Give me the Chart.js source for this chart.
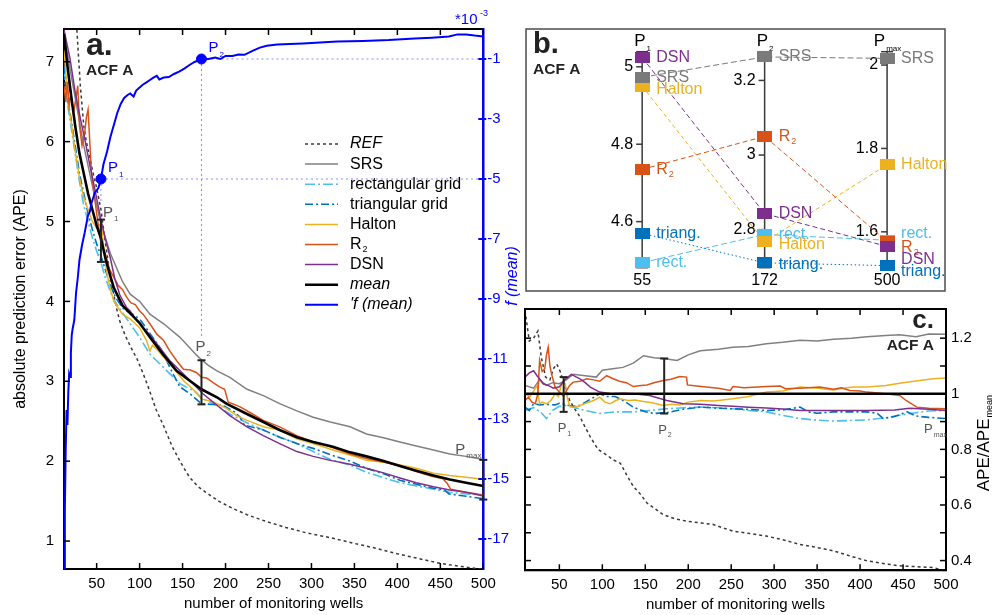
<!DOCTYPE html>
<html lang="en">
<head>
<meta charset="utf-8">
<title>APE vs number of monitoring wells - ACF A</title>
<script src="https://cdn.jsdelivr.net/npm/chart.js@4.4.1/dist/chart.umd.min.js"></script>
<style>
  html, body { margin: 0; padding: 0; background: #fff; }
  #wrap { position: relative; width: 1002px; height: 615px; overflow: hidden; }
  #wrap canvas { position: absolute; }
</style>
</head>
<body>
<div id="wrap">
  <canvas id="chartA" width="525" height="615" style="left:0;top:0"></canvas>
  <canvas id="chartB" width="440" height="300" style="left:520px;top:0"></canvas>
  <canvas id="chartC" width="502" height="320" style="left:500px;top:295px"></canvas>
</div>
<script>
/* ========================================
   APE vs number of monitoring wells (ACF A)
   ======================================== */

// ---- a. absolute prediction error ----
const refX = [24, 27, 29, 31, 33, 35, 38, 42, 46, 50, 55, 60, 66, 73, 77, 83, 90, 97, 104, 111, 119, 128, 138, 148, 158, 168, 177, 192, 208, 225, 246, 270, 295, 323, 350, 375, 400, 425, 450, 475, 500];
const refY = [7.7, 7.4, 7.05, 6.7, 6.45, 6.2, 6.0, 5.8, 5.6, 5.42, 5.15, 4.75, 4.3, 3.92, 3.75, 3.58, 3.42, 3.28, 3.1, 2.9, 2.65, 2.44, 2.18, 1.98, 1.8, 1.68, 1.61, 1.5, 1.41, 1.33, 1.25, 1.17, 1.1, 1.04, 0.97, 0.91, 0.84, 0.78, 0.72, 0.68, 0.645];
const srsX = [12, 16, 20, 25, 30, 35, 40, 45, 50, 55, 60, 66, 72, 80, 89, 100, 112, 128, 147, 166, 172, 180, 190, 205, 225, 244, 263, 283, 302, 322, 345, 364, 385, 403, 422, 442, 461, 480, 500];
const srsY = [7.3, 7.1, 6.85, 6.55, 6.25, 5.95, 5.7, 5.45, 5.2, 4.97, 4.8, 4.6, 4.45, 4.25, 4.09, 4.0, 3.84, 3.72, 3.55, 3.33, 3.27, 3.2, 3.13, 3.05, 2.9, 2.82, 2.72, 2.63, 2.55, 2.49, 2.43, 2.34, 2.29, 2.24, 2.19, 2.14, 2.09, 2.06, 2.02];
const rectX = [12, 15, 20, 25, 30, 35, 40, 45, 50, 55, 60, 65, 70, 80, 89, 100, 112, 128, 147, 166, 172, 190, 205, 225, 244, 263, 283, 302, 322, 345, 364, 385, 403, 422, 442, 461, 480, 500];
const rectY = [6.9, 6.55, 6.2, 5.85, 5.5, 5.2, 5.0, 4.8, 4.63, 4.49, 4.3, 4.15, 4.02, 3.86, 3.72, 3.55, 3.34, 3.17, 2.97, 2.86, 2.79, 2.7, 2.59, 2.48, 2.39, 2.3, 2.22, 2.12, 2.02, 1.95, 1.86, 1.79, 1.73, 1.69, 1.65, 1.61, 1.59, 1.575];
const triX = [12, 15, 20, 25, 30, 35, 40, 45, 50, 55, 60, 66, 72, 80, 85, 92, 100, 104, 112, 125, 139, 147, 159, 172, 185, 197, 210, 217, 222, 244, 263, 283, 302, 322, 345, 364, 385, 403, 422, 442, 455, 460, 480, 500];
const triY = [6.95, 6.6, 6.3, 5.95, 5.6, 5.35, 5.1, 4.9, 4.72, 4.57, 4.4, 4.2, 4.05, 3.92, 3.88, 3.84, 3.78, 3.72, 3.6, 3.4, 3.09, 2.93, 2.84, 2.72, 2.71, 2.7, 2.62, 2.55, 2.45, 2.39, 2.3, 2.22, 2.16, 2.08, 2.0, 1.91, 1.84, 1.76, 1.71, 1.66, 1.64, 1.59, 1.56, 1.53];
const haltonX = [12, 15, 18, 21, 24, 27, 30, 35, 40, 45, 50, 53, 56, 58, 62, 66, 70, 75, 80, 89, 100, 108, 112, 115, 120, 128, 139, 151, 162, 172, 186, 201, 213, 225, 244, 263, 283, 302, 325, 350, 364, 395, 422, 442, 461, 480, 500];
const haltonY = [7.15, 6.75, 6.4, 6.2, 5.95, 5.75, 5.55, 5.3, 5.15, 5.0, 4.92, 4.96, 4.93, 4.7, 4.35, 4.15, 4.0, 3.92, 3.84, 3.78, 3.67, 3.51, 3.38, 3.45, 3.4, 3.3, 3.17, 3.01, 2.9, 2.78, 2.74, 2.66, 2.57, 2.51, 2.43, 2.39, 2.28, 2.22, 2.14, 2.06, 2.01, 1.97, 1.91, 1.85, 1.82, 1.8, 1.775];
const r2X = [12, 14, 16, 18, 20, 23, 26, 28, 30, 33, 36, 38, 40, 42, 44, 47, 50, 55, 60, 65, 70, 75, 80, 85, 90, 95, 100, 104, 112, 120, 128, 135, 143, 151, 159, 166, 172, 178, 186, 193, 199, 203, 217, 230, 244, 263, 283, 302, 310, 322, 345, 365, 384, 403, 422, 440, 453, 458, 462, 480, 500];
const r2Y = [6.7, 6.5, 6.75, 6.45, 6.6, 6.35, 6.55, 6.7, 6.2, 5.95, 6.1, 6.3, 6.4, 6.0, 5.6, 5.35, 5.1, 4.73, 4.6, 4.4, 4.3, 4.2, 4.15, 4.05, 3.98, 3.96, 3.88, 3.84, 3.72, 3.59, 3.51, 3.38, 3.26, 3.15, 3.14, 3.11, 3.05, 3.04, 2.98, 2.93, 2.9, 2.74, 2.68, 2.6, 2.51, 2.43, 2.32, 2.24, 2.22, 2.18, 2.09, 2.03, 1.99, 1.94, 1.87, 1.81, 1.78, 1.72, 1.65, 1.61, 1.575];
const dsnX = [12, 19, 25, 31, 36, 42, 48, 55, 60, 66, 71, 77, 85, 89, 95, 104, 112, 120, 135, 151, 166, 174, 190, 205, 225, 244, 263, 283, 302, 322, 345, 364, 385, 403, 422, 442, 461, 480, 500];
const dsnY = [7.4, 7.04, 6.62, 6.29, 6.04, 5.71, 5.4, 5.02, 4.79, 4.54, 4.29, 4.08, 3.92, 3.88, 3.78, 3.67, 3.58, 3.47, 3.26, 3.09, 2.93, 2.84, 2.7, 2.57, 2.43, 2.32, 2.22, 2.12, 2.06, 2.01, 1.96, 1.91, 1.85, 1.79, 1.73, 1.68, 1.64, 1.61, 1.565];
const meanX = [12, 16, 20, 25, 30, 35, 40, 45, 50, 55, 60, 65, 70, 80, 90, 100, 112, 127, 143, 158, 172, 190, 201, 225, 244, 263, 283, 302, 325, 345, 364, 385, 403, 422, 442, 461, 480, 500];
const meanY = [7.35, 6.95, 6.6, 6.2, 5.85, 5.6, 5.35, 5.15, 4.95, 4.79, 4.55, 4.35, 4.17, 3.95, 3.84, 3.73, 3.55, 3.34, 3.13, 3.01, 2.9, 2.8, 2.72, 2.59, 2.49, 2.39, 2.3, 2.24, 2.18, 2.11, 2.06, 2.0, 1.94, 1.88, 1.82, 1.77, 1.73, 1.69];
// derivative of the mean curve, *10^-3
const fX = [12, 13, 14, 15, 16, 17, 18, 19, 20, 21, 22, 24, 26, 28, 30, 33, 36, 40, 42, 44, 48, 52, 55, 58, 62, 66, 70, 74, 78, 82, 86, 89, 93, 96, 100, 104, 108, 112, 116, 120, 123, 128, 134, 140, 146, 152, 158, 164, 172, 180, 188, 194, 200, 208, 215, 222, 232, 240, 248, 260, 275, 290, 310, 330, 360, 390, 420, 440, 460, 470, 480, 490, 500];
const fY = [-18, -16, -14, -12.7, -13.2, -12.1, -11.5, -11.6, -10.8, -10.2, -10.0, -9.7, -8.8, -8.3, -7.7, -7.2, -6.8, -6.2, -6.1, -5.8, -5.45, -5.3, -5.0, -4.5, -4.1, -3.6, -3.2, -2.8, -2.5, -2.3, -2.2, -2.15, -2.25, -2.05, -1.95, -1.85, -1.78, -1.7, -1.62, -1.56, -1.68, -1.62, -1.6, -1.5, -1.42, -1.32, -1.2, -1.1, -1.0, -1.0, -0.95, -1.0, -0.9, -0.9, -0.85, -0.86, -0.72, -0.62, -0.56, -0.52, -0.5, -0.48, -0.45, -0.42, -0.4, -0.37, -0.32, -0.29, -0.25, -0.18, -0.18, -0.22, -0.25];
const pWells = [55, 172, 500];
const pSubs = ['1', '2', 'max'];
const fAtP = [-5, -1];
const wellTicks = [50, 100, 150, 200, 250, 300, 350, 400, 450, 500];
const apeTicks = [1, 2, 3, 4, 5, 6, 7];
const fTicks = [-17, -15, -13, -11, -9, -7, -5, -3, -1];

// ---- b. APE of each design at P1, P2, Pmax ----
const bNames = ['rect.', 'triang.', 'Halton', 'SRS', 'R2', 'DSN'];
const bP1 = [4.494, 4.570, 4.950, 4.973, 4.735, 5.024];
const bP2 = [2.787, 2.711, 2.767, 3.263, 3.050, 2.843];
const bPmax = [1.580, 1.519, 1.761, 2.016, 1.577, 1.565];
const bTicksP1 = [4.6, 4.8, 5];
const bTicksP2 = [2.8, 3, 3.2];
const bTicksPmax = [1.6, 1.8, 2];

// ---- c. APE / APE_mean ----
const refCX = [10, 15, 20, 25, 29, 34, 39, 43, 47, 51, 55, 62, 68, 74, 80, 86, 95, 105, 113, 121, 128, 136, 144, 152, 162, 171, 185, 198, 215, 229, 240, 252, 270, 291, 310, 330, 350, 369, 390, 408, 430, 446, 465, 485, 500];
const refCY = [1.3, 1.19, 1.2, 1.226, 1.131, 1.06, 1.05, 1.09, 1.107, 1.08, 1.04, 0.976, 0.945, 0.917, 0.88, 0.845, 0.8, 0.78, 0.762, 0.75, 0.71, 0.667, 0.64, 0.607, 0.585, 0.565, 0.55, 0.542, 0.535, 0.53, 0.518, 0.506, 0.498, 0.488, 0.475, 0.458, 0.447, 0.435, 0.415, 0.399, 0.388, 0.381, 0.378, 0.375, 0.363];
const srsCX = [10, 20, 27, 35, 42, 50, 58, 66, 80, 93, 100, 112, 124, 136, 148, 160, 171, 187, 200, 214, 235, 252, 270, 291, 310, 330, 350, 369, 390, 408, 430, 446, 465, 480, 500];
const srsCY = [1.03, 1.02, 1.05, 1.03, 1.04, 1.036, 1.05, 1.07, 1.065, 1.06, 1.085, 1.09, 1.095, 1.11, 1.137, 1.13, 1.127, 1.12, 1.14, 1.155, 1.16, 1.167, 1.17, 1.18, 1.185, 1.193, 1.19, 1.196, 1.2, 1.205, 1.21, 1.212, 1.205, 1.215, 1.214];
const rectCX = [10, 20, 28, 35, 42, 50, 58, 66, 80, 97, 115, 136, 155, 175, 195, 214, 235, 252, 270, 291, 310, 330, 350, 369, 390, 408, 430, 446, 465, 480, 500];
const rectCY = [0.94, 0.95, 0.935, 0.911, 0.94, 0.955, 0.958, 0.952, 0.94, 0.929, 0.935, 0.935, 0.94, 0.946, 0.95, 0.952, 0.95, 0.946, 0.94, 0.935, 0.922, 0.911, 0.905, 0.902, 0.904, 0.906, 0.914, 0.923, 0.932, 0.938, 0.94];
const triCX = [10, 15, 20, 27, 35, 45, 50, 58, 66, 74, 86, 97, 105, 115, 125, 136, 150, 160, 175, 195, 214, 235, 252, 270, 291, 310, 330, 340, 350, 369, 390, 408, 420, 427, 440, 446, 455, 465, 480, 500];
const triCY = [0.952, 0.94, 0.964, 0.96, 0.962, 0.96, 0.966, 0.96, 0.955, 0.958, 0.98, 1.0, 0.99, 0.99, 0.975, 0.952, 0.935, 0.929, 0.932, 0.945, 0.952, 0.948, 0.946, 0.944, 0.94, 0.942, 0.952, 0.935, 0.93, 0.935, 0.935, 0.935, 0.93, 0.911, 0.918, 0.925, 0.935, 0.92, 0.915, 0.911];
const haltonCX = [10, 16, 20, 24, 27, 30, 35, 40, 45, 49, 52, 55, 57, 59, 62, 66, 72, 80, 90, 97, 103, 109, 115, 121, 130, 138, 148, 158, 171, 180, 190, 200, 214, 230, 252, 270, 291, 310, 330, 350, 369, 380, 392, 408, 430, 446, 465, 485, 500];
const haltonCY = [1.0, 0.99, 1.01, 1.03, 0.964, 0.97, 0.964, 0.975, 1.0, 0.99, 1.03, 1.042, 1.035, 0.99, 0.955, 0.952, 0.955, 0.965, 0.976, 0.988, 0.97, 0.964, 0.975, 0.982, 0.976, 0.978, 0.972, 0.968, 0.958, 0.962, 0.96, 0.97, 0.976, 0.974, 0.982, 0.99, 1.006, 1.01, 1.024, 1.02, 1.014, 1.02, 1.024, 1.024, 1.03, 1.038, 1.046, 1.054, 1.057];
const r2CX = [10, 14, 18, 22, 25, 27, 30, 33, 35, 37, 39, 41, 45, 50, 55, 58, 62, 66, 74, 82, 90, 97, 105, 112, 120, 128, 136, 145, 152, 160, 171, 180, 190, 198, 199, 210, 221, 235, 249, 252, 265, 291, 307, 313, 330, 353, 369, 378, 388, 400, 408, 430, 446, 454, 466, 480, 500];
const r2CY = [0.976, 0.988, 0.97, 0.964, 1.0, 1.12, 1.08, 1.09, 1.14, 1.167, 1.10, 1.07, 1.024, 1.006, 0.99, 1.01, 1.03, 1.042, 1.045, 1.054, 1.05, 1.045, 1.065, 1.055, 1.045, 1.04, 1.026, 1.03, 1.032, 1.04, 1.048, 1.052, 1.062, 1.06, 1.032, 1.028, 1.024, 1.02, 1.012, 1.026, 1.022, 1.026, 1.028, 1.018, 1.02, 1.024, 1.016, 1.022, 1.012, 1.01, 1.006, 1.0, 0.994, 0.975, 0.952, 0.948, 0.946];
const dsnCX = [10, 15, 20, 24, 28, 31, 37, 43, 50, 56, 60, 64, 70, 74, 80, 86, 97, 110, 125, 136, 155, 175, 194, 214, 235, 252, 270, 291, 310, 330, 369, 408, 440, 458, 480, 500];
const dsnCY = [1.06, 1.075, 1.083, 1.065, 1.05, 1.036, 1.03, 1.02, 1.025, 1.05, 1.06, 1.07, 1.06, 1.054, 1.04, 1.024, 1.006, 1.0, 1.002, 1.0, 0.994, 0.976, 0.964, 0.962, 0.958, 0.955, 0.952, 0.949, 0.945, 0.94, 0.94, 0.94, 0.942, 0.948, 0.944, 0.94];
const meanCX = [10, 500];
const meanCY = [1, 1];
const cErrLow = [0.935, 0.929];
const cErrHigh = [1.06, 1.127];
const ratioTicks = [0.4, 0.5, 0.6, 0.7, 0.8, 0.9, 1, 1.1, 1.2];

// ---- styling ----
const FONT = "'Liberation Sans', Arial, sans-serif";
const C = {
    ref: '#3a3a3a', srs: '#808080', rect: '#4dbeee', triang: '#0072bd',
    halton: '#edb120', r2: '#d95319', dsn: '#7e2f8e', mean: '#000000',
    f: '#0000ff', guide: '#8c8cff', label: '#555555'
};
const bColor = { 'rect.': C.rect, 'triang.': C.triang, Halton: C.halton, SRS: '#7a7a7a', R2: C.r2, DSN: C.dsn };
const bDash = { 'rect.': [6, 3], 'triang.': [1.5, 2.5], Halton: [4, 3], SRS: [6, 3], R2: [5, 3], DSN: [5, 3] };
const bLabelDy = [[0, 0, 3, 0, 0, 0], [0, 2, 3, 0, 0, 0], [-7, 6, 0, 0, 6, 13]];
const italicLabels = ['REF', 'mean', "'f (mean)"];

Chart.defaults.font.family = FONT;
Chart.defaults.font.size = 15;
Chart.defaults.color = '#000';
Chart.defaults.animation = false;
Chart.defaults.events = [];
Chart.defaults.plugins.legend.display = false;
Chart.defaults.plugins.tooltip.enabled = false;

function pts(xs, ys) {
    return xs.map((x, i) => ({ x: x, y: ys[i] }));
}

function font(size, extra) {
    return (extra ? extra + ' ' : '') + size + 'px ' + FONT;
}

function line(ctx, x1, y1, x2, y2) {
    ctx.beginPath();
    ctx.moveTo(x1, y1);
    ctx.lineTo(x2, y2);
    ctx.stroke();
}

// text with a small subscript (P1, R2, APE_mean)
function subText(ctx, main, sub, x, y, size, subSize, align, extra) {
    ctx.font = font(size, extra);
    const w1 = ctx.measureText(main).width;
    ctx.font = font(subSize, extra);
    const w2 = ctx.measureText(sub).width;
    let x0 = x;
    if (align === 'center') x0 = x - (w1 + w2) / 2;
    else if (align === 'right') x0 = x - w1 - w2;
    ctx.textAlign = 'left';
    ctx.font = font(size, extra);
    ctx.fillText(main, x0, y);
    ctx.font = font(subSize, extra);
    ctx.fillText(sub, x0 + w1 + 1, y + size * 0.3);
}

function errorBar(ctx, x, yTop, yBot, cap) {
    line(ctx, x, yTop, x, yBot);
    line(ctx, x - cap, yTop, x + cap, yTop);
    line(ctx, x - cap, yBot, x + cap, yBot);
}

function series(label, xs, ys, color, extra) {
    return Object.assign({
        type: 'line',
        label: label,
        data: pts(xs, ys),
        borderColor: color,
        backgroundColor: color,
        borderWidth: 1.5,
        pointRadius: 0,
        fill: false,
        yAxisID: 'y'
    }, extra || {});
}

function fixedTicks(values) {
    return scale => { scale.ticks = values.map(v => ({ value: v })); };
}

function markerImg(color) {
    const c = document.createElement('canvas');
    c.width = 15;
    c.height = 11;
    const g = c.getContext('2d');
    g.fillStyle = color;
    g.fillRect(0, 0, 15, 11);
    return c;
}

const noGrid = { display: false, drawTicks: false, tickLength: 0 };
const bCols = [bP1, bP2, bPmax];
const bAxisIds = ['yP1', 'yP2', 'yPmax'];
const bTicks = [bTicksP1, bTicksP2, bTicksPmax];

/* ---------- panel a ---------- */
const pLabelDx = [2, -6, -28];
const pLabelDy = [-3, -9, -6];

const panelA = {
    id: 'panelA',
    beforeDatasetsDraw(chart) {
        const { ctx, chartArea: a, scales: { x, y, yF } } = chart;
        ctx.save();
        ctx.strokeStyle = C.guide;
        ctx.lineWidth = 1;
        ctx.setLineDash([2, 3]);
        fAtP.forEach((v, k) => {
            const px = x.getPixelForValue(pWells[k]);
            const py = yF.getPixelForValue(v);
            const top = y.getPixelForValue(Math.max(...bCols[k])) + pLabelDy[k] - 14;
            line(ctx, px, py, a.right, py);
            line(ctx, px, py, px, top);
        });
        ctx.restore();
    },
    afterDatasetsDraw(chart) {
        const { ctx, chartArea: a, scales: { x, y, yF } } = chart;
        ctx.save();
        ctx.setLineDash([]);

        // frame top and inward ticks
        ctx.strokeStyle = '#000';
        ctx.lineWidth = 2;
        line(ctx, a.left - 1, a.top, a.right, a.top);
        ctx.lineWidth = 1.5;
        wellTicks.forEach(v => {
            const px = x.getPixelForValue(v);
            line(ctx, px, a.bottom, px, a.bottom - 6);
            line(ctx, px, a.top, px, a.top + 6);
        });
        apeTicks.forEach(v => {
            const py = y.getPixelForValue(v);
            line(ctx, a.left, py, a.left + 6, py);
        });
        ctx.strokeStyle = C.f;
        ctx.lineWidth = 2;
        fTicks.forEach(v => {
            const py = yF.getPixelForValue(v);
            line(ctx, a.right - 5, py, a.right + 3, py);
        });

        // spread of the designs at P1, P2, Pmax
        ctx.strokeStyle = '#222';
        ctx.lineWidth = 2;
        ctx.textBaseline = 'alphabetic';
        pWells.forEach((w, k) => {
            const px = x.getPixelForValue(w);
            const top = y.getPixelForValue(Math.max(...bCols[k]));
            const bot = y.getPixelForValue(Math.min(...bCols[k]));
            errorBar(ctx, px, top, bot, 4);
            ctx.fillStyle = C.label;
            subText(ctx, 'P', pSubs[k], px + pLabelDx[k], top + pLabelDy[k], 15, 8, 'left');
        });
        ctx.fillStyle = C.f;
        fAtP.forEach((v, k) => {
            const px = x.getPixelForValue(pWells[k]);
            const py = yF.getPixelForValue(v);
            subText(ctx, 'P', pSubs[k], px + 7, py - 7, 15, 8, 'left');
        });

        // panel tag
        ctx.fillStyle = '#222';
        ctx.textAlign = 'left';
        ctx.font = font(32, 'bold');
        ctx.fillText('a.', 86, 55);
        ctx.font = font(15.5, 'bold');
        ctx.fillText('ACF A', 86, 75);

        // legend
        let row = 0;
        ctx.textBaseline = 'middle';
        chart.data.datasets.forEach(ds => {
            if (ds.inLegend === false) return;
            const ly = 144 + row * 20.1;
            ctx.strokeStyle = ds.borderColor;
            ctx.lineWidth = ds.borderWidth;
            ctx.setLineDash(ds.borderDash || []);
            line(ctx, 305, ly, 338, ly);
            ctx.setLineDash([]);
            ctx.fillStyle = '#000';
            if (ds.label === 'R2') {
                subText(ctx, 'R', '2', 350, ly, 16, 9, 'left');
            } else {
                ctx.textAlign = 'left';
                ctx.font = font(16, italicLabels.includes(ds.label) ? 'italic' : '');
                ctx.fillText(ds.label, 350, ly);
            }
            row++;
        });

        // axis titles
        ctx.fillStyle = '#000';
        ctx.textAlign = 'center';
        ctx.textBaseline = 'middle';
        ctx.font = font(15);
        ctx.fillText('number of monitoring wells', (a.left + a.right) / 2, 604);
        ctx.save();
        ctx.translate(21, (a.top + a.bottom) / 2);
        ctx.rotate(-Math.PI / 2);
        ctx.font = font(16);
        ctx.fillText('absolute prediction error (APE)', 0, 0);
        ctx.restore();
        ctx.save();
        ctx.translate(513, 276);
        ctx.rotate(-Math.PI / 2);
        ctx.fillStyle = C.f;
        ctx.font = font(16, 'italic');
        ctx.fillText('f (mean)', 0, 0);
        ctx.restore();

        ctx.fillStyle = C.f;
        ctx.textAlign = 'left';
        ctx.textBaseline = 'alphabetic';
        ctx.font = font(15);
        ctx.fillText('*10', 455, 24);
        ctx.font = font(9);
        ctx.fillText('-3', 480, 16);
        ctx.restore();
    }
};

new Chart(document.getElementById('chartA'), {
    type: 'line',
    data: {
        datasets: [
            series('REF', refX, refY, C.ref, { borderDash: [3, 3], order: 8 }),
            series('SRS', srsX, srsY, C.srs, { order: 7 }),
            series('rectangular grid', rectX, rectY, C.rect, { borderDash: [10, 3, 2, 3], borderWidth: 1.6, order: 6 }),
            series('triangular grid', triX, triY, C.triang, { borderDash: [8, 3, 2, 3], borderWidth: 1.6, order: 5 }),
            series('Halton', haltonX, haltonY, C.halton, { order: 4 }),
            series('R2', r2X, r2Y, C.r2, { order: 3 }),
            series('DSN', dsnX, dsnY, C.dsn, { order: 2 }),
            series('mean', meanX, meanY, C.mean, { borderWidth: 2.6, order: 1 }),
            series("'f (mean)", fX, fY, C.f, { borderWidth: 2, yAxisID: 'yF', order: 0 }),
            {
                type: 'scatter', label: 'P', data: pts(pWells.slice(0, 2), fAtP), yAxisID: 'yF',
                pointRadius: 5, pointBackgroundColor: C.f, pointBorderColor: C.f, order: -1, inLegend: false
            }
        ]
    },
    options: {
        responsive: false,
        layout: { padding: { top: 29, left: 0, right: 0, bottom: 0 } },
        scales: {
            x: {
                type: 'linear', min: 12, max: 500,
                afterBuildTicks: fixedTicks(wellTicks),
                afterFit: s => { s.height = 46; },
                grid: noGrid,
                border: { color: '#000', width: 2 },
                ticks: { padding: 6, autoSkip: false, maxRotation: 0, callback: v => String(v) }
            },
            y: {
                position: 'left', min: 0.65, max: 7.41,
                afterBuildTicks: fixedTicks(apeTicks),
                afterFit: s => { s.width = 64; },
                grid: noGrid,
                border: { color: '#000', width: 2 },
                ticks: { padding: 10, callback: v => String(v) }
            },
            yF: {
                position: 'right', min: -18, max: 0,
                afterBuildTicks: fixedTicks(fTicks),
                afterFit: s => { s.width = 41.7; },
                grid: noGrid,
                border: { color: C.f, width: 2.5 },
                ticks: { color: C.f, padding: 4, callback: v => String(v) }
            }
        }
    },
    plugins: [panelA]
});

/* ---------- panel b ---------- */
const panelB = {
    id: 'panelB',
    beforeDatasetsDraw(chart) {
        const { ctx, chartArea: a, scales } = chart;
        const x = scales.x;
        ctx.save();
        ctx.strokeStyle = '#4d4d4d';
        ctx.lineWidth = 1.5;
        ctx.strokeRect(6, 29, 419, 262);

        bAxisIds.forEach((id, k) => {
            const s = scales[id];
            const ax = x.getPixelForValue(k);
            ctx.strokeStyle = '#3a3a3a';
            ctx.lineWidth = 1.5;
            line(ctx, ax, a.top, ax, a.bottom);
            line(ctx, ax - 6, a.top, ax + 6, a.top);
            line(ctx, ax - 6, a.bottom, ax + 6, a.bottom);
            ctx.fillStyle = '#000';
            ctx.font = font(16);
            ctx.textAlign = 'right';
            ctx.textBaseline = 'middle';
            bTicks[k].forEach(v => {
                const py = s.getPixelForValue(v);
                line(ctx, ax - 6, py, ax, py);
                ctx.fillText(String(v), ax - 9, py);
            });
        });

        bNames.forEach((n, i) => {
            ctx.strokeStyle = bColor[n];
            ctx.lineWidth = 1;
            ctx.setLineDash(bDash[n]);
            ctx.beginPath();
            bCols.forEach((col, k) => {
                const p = chart.getDatasetMeta(k).data[i];
                if (k === 0) ctx.moveTo(p.x, p.y);
                else ctx.lineTo(p.x, p.y);
            });
            ctx.stroke();
        });
        ctx.restore();
    },
    afterDatasetsDraw(chart) {
        const { ctx, scales } = chart;
        const x = scales.x;
        ctx.save();
        bCols.forEach((vals, k) => {
            const s = scales[bAxisIds[k]];
            const ax = x.getPixelForValue(k);
            ctx.textBaseline = 'middle';
            bNames.forEach((n, i) => {
                const py = s.getPixelForValue(vals[i]) + bLabelDy[k][i];
                ctx.fillStyle = bColor[n];
                if (n === 'R2') {
                    subText(ctx, 'R', '2', ax + 14, py, 16, 9, 'left');
                } else {
                    ctx.textAlign = 'left';
                    ctx.font = font(16);
                    ctx.fillText(n, ax + 14, py);
                }
            });
            ctx.textBaseline = 'alphabetic';
            ctx.fillStyle = '#000';
            subText(ctx, 'P', pSubs[k], ax, 46, 17, 8, 'center');
            ctx.textAlign = 'center';
            ctx.font = font(16);
            ctx.fillText(String(pWells[k]), ax, 285);
        });
        ctx.fillStyle = '#222';
        ctx.textAlign = 'left';
        ctx.font = font(29, 'bold');
        ctx.fillText('b.', 13, 53);
        ctx.font = font(15.5, 'bold');
        ctx.fillText('ACF A', 13, 74);
        ctx.restore();
    }
};

const bScales = {
    x: { type: 'linear', display: false, min: -0.924, max: 2.481 },
    yP1: { type: 'linear', display: false, min: 4.481, max: 5.039 },
    yP2: { type: 'linear', display: false, min: 2.698, max: 3.277 },
    yPmax: { type: 'linear', display: false, min: 1.514, max: 2.032 }
};

new Chart(document.getElementById('chartB'), {
    type: 'scatter',
    data: {
        datasets: bCols.map((vals, k) => ({
            label: 'P' + pSubs[k],
            data: vals.map(v => ({ x: k, y: v })),
            yAxisID: bAxisIds[k],
            pointStyle: bNames.map(n => markerImg(bColor[n])),
            pointRadius: 8,
            clip: false
        }))
    },
    options: {
        responsive: false,
        layout: { padding: { top: 51.7, bottom: 32.3, left: 6, right: 14 } },
        scales: bScales
    },
    plugins: [panelB]
});

/* ---------- panel c ---------- */
const panelC = {
    id: 'panelC',
    afterDatasetsDraw(chart) {
        const { ctx, chartArea: a, scales: { x, y } } = chart;
        ctx.save();
        ctx.strokeStyle = '#000';
        ctx.lineWidth = 2;
        ctx.strokeRect(a.left, a.top, a.right - a.left, a.bottom - a.top);
        ctx.lineWidth = 1.5;
        wellTicks.forEach(v => {
            const px = x.getPixelForValue(v);
            line(ctx, px, a.bottom, px, a.bottom - 6);
            line(ctx, px, a.top, px, a.top + 6);
        });
        ratioTicks.forEach(v => {
            const py = y.getPixelForValue(v);
            line(ctx, a.left, py, a.left + 6, py);
            line(ctx, a.right, py, a.right - 6, py);
        });

        ctx.strokeStyle = '#222';
        ctx.lineWidth = 2;
        ctx.textBaseline = 'alphabetic';
        cErrLow.forEach((lo, k) => {
            const px = x.getPixelForValue(pWells[k]);
            const bot = y.getPixelForValue(lo);
            errorBar(ctx, px, y.getPixelForValue(cErrHigh[k]), bot, 4);
            ctx.fillStyle = C.label;
            subText(ctx, 'P', pSubs[k], px - 6, bot + 20, 13, 7, 'left');
        });
        subText(ctx, 'P', pSubs[2], a.right, y.getPixelForValue(0.86), 13, 7, 'right');

        ctx.fillStyle = '#222';
        ctx.textAlign = 'right';
        ctx.font = font(26, 'bold');
        ctx.fillText('c.', a.right - 12, 33);
        ctx.font = font(15.5, 'bold');
        ctx.fillText('ACF A', a.right - 12, 55);

        ctx.fillStyle = '#000';
        ctx.textAlign = 'center';
        ctx.textBaseline = 'middle';
        ctx.font = font(15);
        ctx.fillText('number of monitoring wells', (a.left + a.right) / 2, 310);
        ctx.save();
        ctx.translate(484, (a.top + a.bottom) / 2 + 4);
        ctx.rotate(-Math.PI / 2);
        subText(ctx, 'APE/APE', 'mean', 0, 0, 17, 9, 'center');
        ctx.restore();
        ctx.restore();
    }
};

new Chart(document.getElementById('chartC'), {
    type: 'line',
    data: {
        datasets: [
            series('REF', refCX, refCY, C.ref, { borderDash: [3, 3], order: 8 }),
            series('SRS', srsCX, srsCY, C.srs, { order: 7 }),
            series('rectangular grid', rectCX, rectCY, C.rect, { borderDash: [10, 3, 2, 3], borderWidth: 1.6, order: 6 }),
            series('triangular grid', triCX, triCY, C.triang, { borderDash: [8, 3, 2, 3], borderWidth: 1.6, order: 5 }),
            series('Halton', haltonCX, haltonCY, C.halton, { order: 4 }),
            series('R2', r2CX, r2CY, C.r2, { order: 3 }),
            series('DSN', dsnCX, dsnCY, C.dsn, { order: 2 }),
            series('mean', meanCX, meanCY, C.mean, { borderWidth: 2.4, order: 1 })
        ]
    },
    options: {
        responsive: false,
        layout: { padding: { top: 12.7, left: 25, right: 0, bottom: 0 } },
        scales: {
            x: {
                type: 'linear', min: 10, max: 500,
                afterBuildTicks: fixedTicks(wellTicks),
                afterFit: s => { s.height = 44.7; },
                grid: noGrid,
                border: { color: '#000', width: 2 },
                ticks: { padding: 6, autoSkip: false, maxRotation: 0, callback: v => String(v) }
            },
            y: {
                position: 'right', min: 0.365, max: 1.305,
                afterBuildTicks: fixedTicks(ratioTicks),
                afterFit: s => { s.width = 56; },
                grid: noGrid,
                border: { color: '#000', width: 2 },
                ticks: { padding: 5, autoSkip: false, callback: v => (Math.round(v * 10) % 2 === 0 ? String(v) : '') }
            }
        }
    },
    plugins: [panelC]
});
</script>
</body>
</html>
